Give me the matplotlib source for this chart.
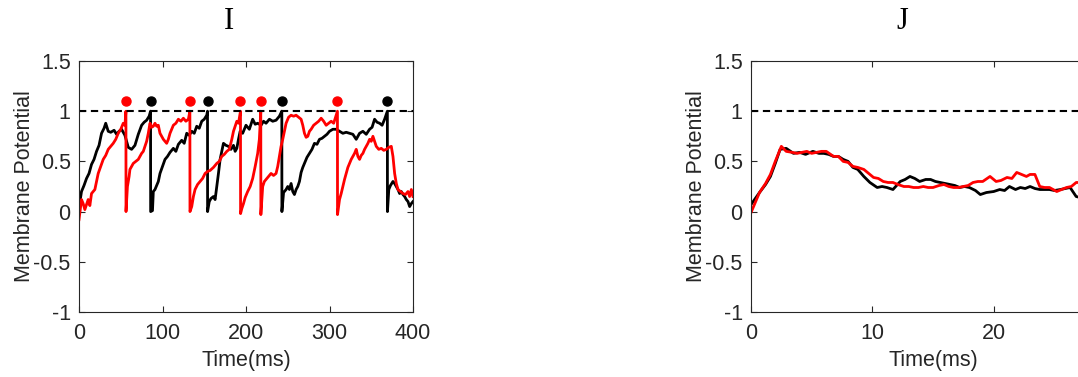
import numpy as np
import matplotlib.pyplot as plt

plt.rcParams['font.family'] = ['Liberation Sans', 'DejaVu Sans']

# ---- panel I: two neurons over 400 ms (time in ms, membrane potential) ----
t_black_I = [0, 3, 6, 9, 12, 15, 18, 21, 24, 27, 30, 32, 35, 38, 42, 45, 48, 51, 55, 59, 63, 67, 71, 75, 78, 81, 84, 85.7,
             85.8, 88, 89, 91, 93, 95, 97, 100, 103, 106, 109, 113, 116, 119, 123, 126, 129, 132, 135, 138, 141, 144, 147, 150, 153, 153.9,
             154.0, 156, 158, 161, 163, 165, 167, 169, 171, 173, 176, 179, 182, 185, 187, 189, 191, 193, 196, 200, 204, 208, 211, 214, 218,
             221, 224, 228, 232, 236, 240, 242.9,
             243.0, 245, 248, 250, 252, 254, 256, 258, 260, 262, 264, 266, 268, 270, 273, 276, 279, 282, 285, 288, 291, 294, 297, 300, 304,
             308, 312, 316, 320, 324, 328, 332, 336, 340, 344, 348, 351, 354, 357, 360, 363, 366, 369.3,
             369.4, 371, 373, 376, 378, 380, 382, 384, 386, 388, 390, 392, 394, 396, 398, 400]
v_black_I = [0.04, 0.2, 0.26, 0.33, 0.38, 0.47, 0.52, 0.6, 0.66, 0.78, 0.83, 0.88, 0.8, 0.79, 0.81, 0.77, 0.8, 0.82, 0.76, 0.64, 0.62, 0.66, 0.77, 0.86, 0.89, 0.91, 0.95, 1.0,
             0.0, 0.01, 0.2, 0.22, 0.26, 0.3, 0.38, 0.45, 0.52, 0.55, 0.59, 0.63, 0.6, 0.67, 0.71, 0.68, 0.78, 0.76, 0.8, 0.78, 0.85, 0.83, 0.9, 0.92, 0.96, 1.0,
             0.0, 0.1, 0.13, 0.15, 0.12, 0.25, 0.38, 0.52, 0.6, 0.68, 0.66, 0.65, 0.62, 0.66, 0.6, 0.63, 0.72, 0.8, 0.78, 0.86, 0.82, 0.92, 0.87, 0.88, 0.86,
             0.9, 0.88, 0.92, 0.9, 0.91, 0.95, 1.0,
             0.0, 0.19, 0.22, 0.25, 0.22, 0.28, 0.2, 0.17, 0.22, 0.25, 0.3, 0.39, 0.44, 0.48, 0.54, 0.58, 0.62, 0.68, 0.67, 0.72, 0.73, 0.75, 0.77, 0.8, 0.82,
             0.82, 0.8, 0.78, 0.79, 0.78, 0.77, 0.72, 0.78, 0.8, 0.77, 0.82, 0.84, 0.92, 0.89, 0.88, 0.86, 0.92, 1.0,
             0.0, 0.22, 0.26, 0.3, 0.28, 0.25, 0.22, 0.18, 0.2, 0.17, 0.15, 0.12, 0.1, 0.05, 0.08, 0.1]

t_red_I = [0, 2, 3, 5, 7, 9, 11, 13, 15, 17, 19, 21, 23, 26, 29, 32, 35, 38, 41, 44, 47, 50, 53, 55, 56.2,
           56.3, 58, 60, 61, 63, 65, 68, 71, 73, 75, 77, 79, 81, 83, 85, 87, 89, 91, 93, 95, 97, 99, 101, 103, 105, 107, 109, 111, 113, 116,
           119, 122, 125, 128, 131, 132.8,
           132.9, 135, 137, 139, 142, 145, 148, 151, 154, 157, 161, 165, 168, 171, 174, 177, 180, 183, 185, 187, 189, 191, 193.4,
           193.5, 195, 197, 199, 202, 205, 208, 211, 214, 216, 217.7,
           217.8, 220, 222, 224, 227, 230, 233, 236, 238, 240, 242, 244, 246, 248, 251, 254, 257, 260, 263, 266, 268, 270, 272, 274, 276,
           278, 281, 284, 287, 290, 293, 296, 299, 302, 305, 308, 309.5,
           309.6, 312, 314, 316, 318, 320, 322, 324, 326, 328, 330, 332, 334, 336, 338, 340, 342, 344, 346, 348, 350, 352, 354, 356, 359,
           362, 365, 368, 371, 374, 376, 378, 380, 382, 385, 388, 391, 394, 396, 398, 400]
v_red_I = [-0.08, 0.05, 0.12, 0.08, 0.02, 0.07, 0.12, 0.06, 0.18, 0.2, 0.22, 0.3, 0.38, 0.45, 0.52, 0.56, 0.62, 0.65, 0.68, 0.72, 0.78, 0.82, 0.88, 0.86, 1.0,
           0.0, 0.25, 0.35, 0.42, 0.45, 0.48, 0.5, 0.52, 0.55, 0.58, 0.6, 0.65, 0.7, 0.78, 0.88, 0.84, 0.85, 0.88, 0.85, 0.86, 0.78, 0.75, 0.72, 0.7, 0.68,
           0.72, 0.78, 0.82, 0.86, 0.88, 0.92, 0.9, 0.93, 0.9, 0.92, 1.0,
           0.0, 0.05, 0.15, 0.22, 0.27, 0.3, 0.33, 0.38, 0.4, 0.41, 0.44, 0.48, 0.5, 0.55, 0.57, 0.6, 0.62, 0.72, 0.8, 0.85, 0.9, 0.88, 1.0,
           -0.02, 0.03, 0.08, 0.14, 0.2, 0.25, 0.33, 0.45, 0.58, 0.72, 1.0,
           -0.03, 0.25, 0.3, 0.32, 0.35, 0.38, 0.36, 0.38, 0.45, 0.55, 0.65, 0.72, 0.8, 0.88, 0.94, 0.96, 0.95, 0.96, 0.94, 0.92, 0.86, 0.78, 0.74, 0.75, 0.8,
           0.82, 0.86, 0.88, 0.9, 0.93, 0.9, 0.86, 0.88, 0.9, 0.88, 0.96, 1.0,
           -0.03, 0.12, 0.18, 0.25, 0.32, 0.38, 0.44, 0.48, 0.52, 0.55, 0.58, 0.62, 0.55, 0.52, 0.56, 0.58, 0.62, 0.65, 0.68, 0.72, 0.7, 0.75, 0.7, 0.65, 0.62,
           0.63, 0.61, 0.62, 0.64, 0.65, 0.55, 0.38, 0.28, 0.22, 0.2, 0.18, 0.17, 0.2, 0.15, 0.22, 0.15]

spikes_black_I = [85.7, 153.9, 242.9, 369.3]
spikes_red_I = [56.2, 132.8, 193.4, 217.7, 309.5]

# ---- panel J: first 30 ms ----
t_black_J = [0, 0.7, 1.2, 1.6, 2.0, 2.4, 2.9, 3.5, 4.0, 4.5, 5.1, 5.6, 6.0, 6.4, 6.8, 7.2, 7.6, 8.0, 8.4, 8.8, 9.3, 9.8, 10.4,
             10.8, 11.2, 11.7, 12.3, 12.7, 13.1, 13.5, 13.9, 14.4, 14.8, 15.2, 15.6, 16.0, 16.4, 16.8, 17.2, 17.6, 18.0, 18.5, 18.9,
             19.4, 20.0, 20.5, 20.9, 21.3, 21.8, 22.2, 22.6, 23.0, 23.4, 23.8, 24.2, 24.6, 25.0, 25.5, 25.9, 26.3, 26.8, 27.5, 28.2]
v_black_J = [0.07, 0.19, 0.27, 0.35, 0.48, 0.62, 0.63, 0.58, 0.59, 0.57, 0.6, 0.58, 0.58, 0.57, 0.55, 0.55, 0.52, 0.5, 0.44, 0.42, 0.35, 0.29, 0.24,
             0.25, 0.24, 0.22, 0.3, 0.32, 0.35, 0.33, 0.3, 0.32, 0.32, 0.3, 0.29, 0.28, 0.27, 0.26, 0.24, 0.25, 0.24, 0.21, 0.17,
             0.19, 0.2, 0.22, 0.21, 0.25, 0.22, 0.24, 0.23, 0.25, 0.23, 0.22, 0.22, 0.22, 0.21, 0.22, 0.23, 0.24, 0.15, 0.13, 0.14]
t_red_J = [0, 0.7, 1.2, 1.6, 2.0, 2.5, 2.9, 3.4, 3.8, 4.2, 4.6, 5.0, 5.4, 5.8, 6.2, 6.8, 7.2, 7.6, 8.0, 8.4, 8.8, 9.3, 9.7, 10.1,
           10.5, 10.9, 11.3, 11.7, 12.1, 12.6, 13.0, 13.4, 13.8, 14.2, 14.6, 15.0, 15.5, 15.9, 16.3, 16.7, 17.1, 17.5, 17.9, 18.3,
           18.7, 19.1, 19.7, 20.2, 20.6, 21.1, 21.5, 21.9, 22.3, 22.7, 23.0, 23.4, 23.8, 24.2, 24.6, 25.2, 25.6, 26.0, 26.4, 26.8, 27.5, 28.2]
v_red_J = [-0.01, 0.19, 0.28, 0.37, 0.5, 0.65, 0.6, 0.59, 0.58, 0.59, 0.6, 0.58, 0.59, 0.6, 0.6, 0.55, 0.55, 0.5, 0.49, 0.45, 0.44, 0.42, 0.38, 0.34,
           0.33, 0.3, 0.29, 0.29, 0.27, 0.25, 0.25, 0.24, 0.24, 0.25, 0.24, 0.24, 0.26, 0.27, 0.25, 0.24, 0.24, 0.25, 0.26, 0.29,
           0.3, 0.3, 0.35, 0.3, 0.31, 0.34, 0.33, 0.39, 0.37, 0.35, 0.37, 0.37, 0.25, 0.24, 0.24, 0.2, 0.22, 0.24, 0.25, 0.29, 0.29, 0.28]

threshold = 1.0
dot_level = 1.1

fig = plt.figure(figsize=(10.78, 3.77), dpi=100)
ax1 = fig.add_axes([79 / 1078, 1 - 312 / 377, 334 / 1078, 251 / 377])
ax2 = fig.add_axes([751 / 1078, 1 - 312 / 377, 364 / 1078, 251 / 377])

tick_col = '#262626'

def style(ax, xlim, xticks):
    ax.set_xlim(*xlim)
    ax.set_ylim(-1, 1.5)
    ax.set_xticks(xticks)
    ax.set_yticks([-1, -0.5, 0, 0.5, 1, 1.5])
    ax.set_yticklabels(['-1', '-0.5', '0', '0.5', '1', '1.5'])
    ax.tick_params(direction='in', top=True, right=True, length=4, width=0.8,
                   labelsize=15.5, labelcolor=tick_col, colors='#262626')
    ax.tick_params(axis='x', pad=8)
    ax.tick_params(axis='y', pad=6)
    for s in ax.spines.values():
        s.set_linewidth(0.8)
        s.set_color('#262626')
    ax.set_xlabel('Time(ms)', fontsize=15.5, color=tick_col, labelpad=4)
    ax.set_ylabel('Membrane Potential', fontsize=15.5, color=tick_col, labelpad=-1)
    ax.axhline(threshold, color='k', linestyle=(0, (3.5, 2.2)), linewidth=1.5)

# panel I
ax1.plot(t_black_I, v_black_I, color='k', linewidth=2)
ax1.plot(t_red_I, v_red_I, color='r', linewidth=2)
ax1.plot(spikes_red_I, [dot_level] * len(spikes_red_I), 'o', color='r', markersize=6.5)
ax1.plot(spikes_black_I, [dot_level] * len(spikes_black_I), 'o', color='k', markersize=6.5)
style(ax1, (0, 400), [0, 100, 200, 300, 400])

# panel J
ax2.plot(t_black_J, v_black_J, color='k', linewidth=2)
ax2.plot(t_red_J, v_red_J, color='r', linewidth=2)
style(ax2, (0, 30), [0, 10, 20])

fig.text(229 / 1078, 1 - 29 / 377, 'I', family=['Liberation Serif', 'DejaVu Serif'],
         fontsize=22, ha='center', va='baseline')
fig.text(902 / 1078, 1 - 29 / 377, 'J', family=['Liberation Serif', 'DejaVu Serif'],
         fontsize=22, ha='center', va='baseline')

fig.savefig('out.png', dpi=100)
